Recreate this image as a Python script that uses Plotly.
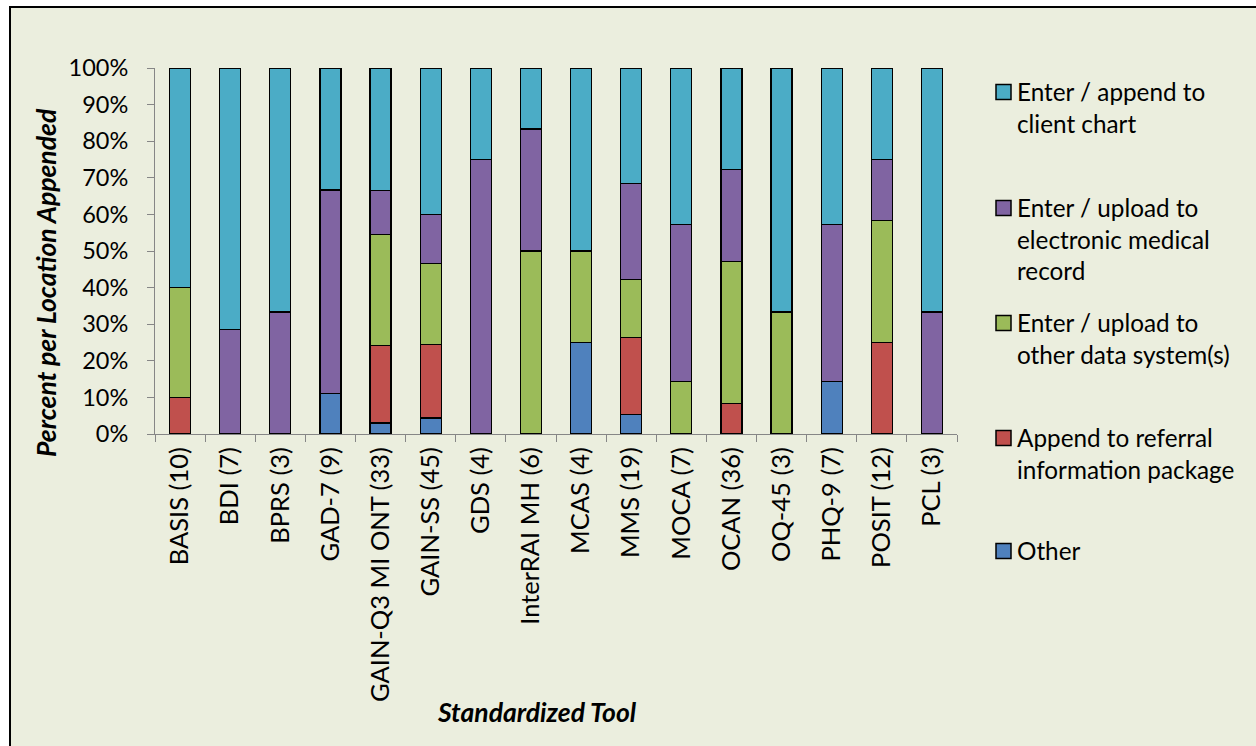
import plotly.graph_objects as go

categories = ["BASIS (10)", "BDI (7)", "BPRS (3)", "GAD-7 (9)", "GAIN-Q3 MI ONT (33)",
              "GAIN-SS (45)", "GDS (4)", "InterRAI MH (6)", "MCAS (4)", "MMS (19)",
              "MOCA (7)", "OCAN (36)", "OQ-45 (3)", "PHQ-9 (7)", "POSIT (12)", "PCL (3)"]

other = [0, 0, 0, 11.1, 3.0, 4.4, 0, 0, 25, 5.3, 0, 0, 0, 14.3, 0, 0]
referral = [10, 0, 0, 0, 21.2, 20.0, 0, 0, 0, 21.1, 0, 8.3, 0, 0, 25, 0]
other_data = [30, 0, 0, 0, 30.3, 22.2, 0, 50, 25, 15.8, 14.3, 38.9, 33.3, 0, 33.3, 0]
emr = [0, 28.6, 33.3, 55.6, 12.1, 13.3, 75, 33.3, 0, 26.3, 42.9, 25, 0, 42.9, 16.7, 33.3]
client_chart = [60, 71.4, 66.7, 33.3, 33.4, 40.1, 25, 16.7, 50, 31.5, 42.8, 27.8, 66.7, 42.8, 25, 66.7]

series = [
    ("Other", other, "#4F81BD"),
    ("Append to referral<br>information package", referral, "#C0504D"),
    ("Enter / upload to<br>other data system(s)", other_data, "#9BBB59"),
    ("Enter / upload to<br>electronic medical<br>record", emr, "#8064A2"),
    ("Enter / append to<br>client chart", client_chart, "#4BACC6"),
]

FONT = "Lato"
BG = "#EBEEDE"
W, H = 1256, 746
L, R, T, B = 155, 957, 68, 434  # plot area pixels
PW, PH = R - L, B - T
LEG_SIZE = 24.3

def px(x):
    return (x - L) / PW

def py(y):
    return (B - y) / PH

fig = go.Figure()
for name, vals, color in series:
    fig.add_trace(go.Bar(
        x=categories, y=[v if v else None for v in vals], name=name,
        marker=dict(color=color, line=dict(color="black", width=1.3)),
        showlegend=False,
    ))

shapes = [dict(type="rect", xref="paper", yref="paper", x0=px(10), x1=px(1275),
               y0=py(770), y1=py(7), fillcolor=BG, line=dict(color="black", width=2),
               layer="below")]
annotations = []

# manual legend (top to bottom, reverse stack order)
legend_rows = [92, 208, 323, 438, 551]
for (name, vals, color), yc in zip(reversed(series), legend_rows):
    shapes.append(dict(type="rect", xref="paper", yref="paper",
                       x0=px(996), x1=px(1011), y0=py(yc + 7.5), y1=py(yc - 7.5),
                       fillcolor=color, line=dict(color="black", width=1.5)))
    annotations.append(dict(text=name, xref="paper", yref="paper", x=px(1015), y=py(yc - 17),
                            xanchor="left", yanchor="top", align="left", showarrow=False,
                            font=dict(family=FONT, size=LEG_SIZE, color="black")))

annotations.append(dict(text="<b><i>Percent per Location Appended</i></b>", xref="paper", yref="paper",
                        x=px(46), y=py(283), textangle=-90, showarrow=False,
                        xanchor="center", yanchor="middle",
                        font=dict(family=FONT, size=26.5, color="black")))
annotations.append(dict(text="<b><i>Standardized Tool</i></b>", xref="paper", yref="paper",
                        x=px(537), y=py(712), showarrow=False,
                        xanchor="center", yanchor="middle",
                        font=dict(family=FONT, size=26.5, color="black")))

fig.update_layout(
    barmode="stack", bargap=0.58,
    width=W, height=H,
    margin=dict(l=L, r=W - R, t=T, b=H - B, pad=0),
    paper_bgcolor="white", plot_bgcolor="rgba(0,0,0,0)",
    font=dict(family=FONT, size=20, color="black"),
    shapes=shapes, annotations=annotations,
    xaxis=dict(type="category", tickson="boundaries", ticks="outside", ticklen=7,
               tickcolor="#868686", showline=True, linecolor="#868686", linewidth=1,
               tickangle=-90, showgrid=False, ticklabelstandoff=2,
               tickfont=dict(family=FONT, size=25.5, color="black")),
    yaxis=dict(range=[0, 100], dtick=10, ticksuffix="%", ticks="outside", ticklen=7,
               tickcolor="#868686", showline=True, linecolor="#868686", linewidth=1,
               showgrid=False, zeroline=False, ticklabelstandoff=14,
               tickfont=dict(family=FONT, size=23.5, color="black")),
)

fig.write_html("out.html")
